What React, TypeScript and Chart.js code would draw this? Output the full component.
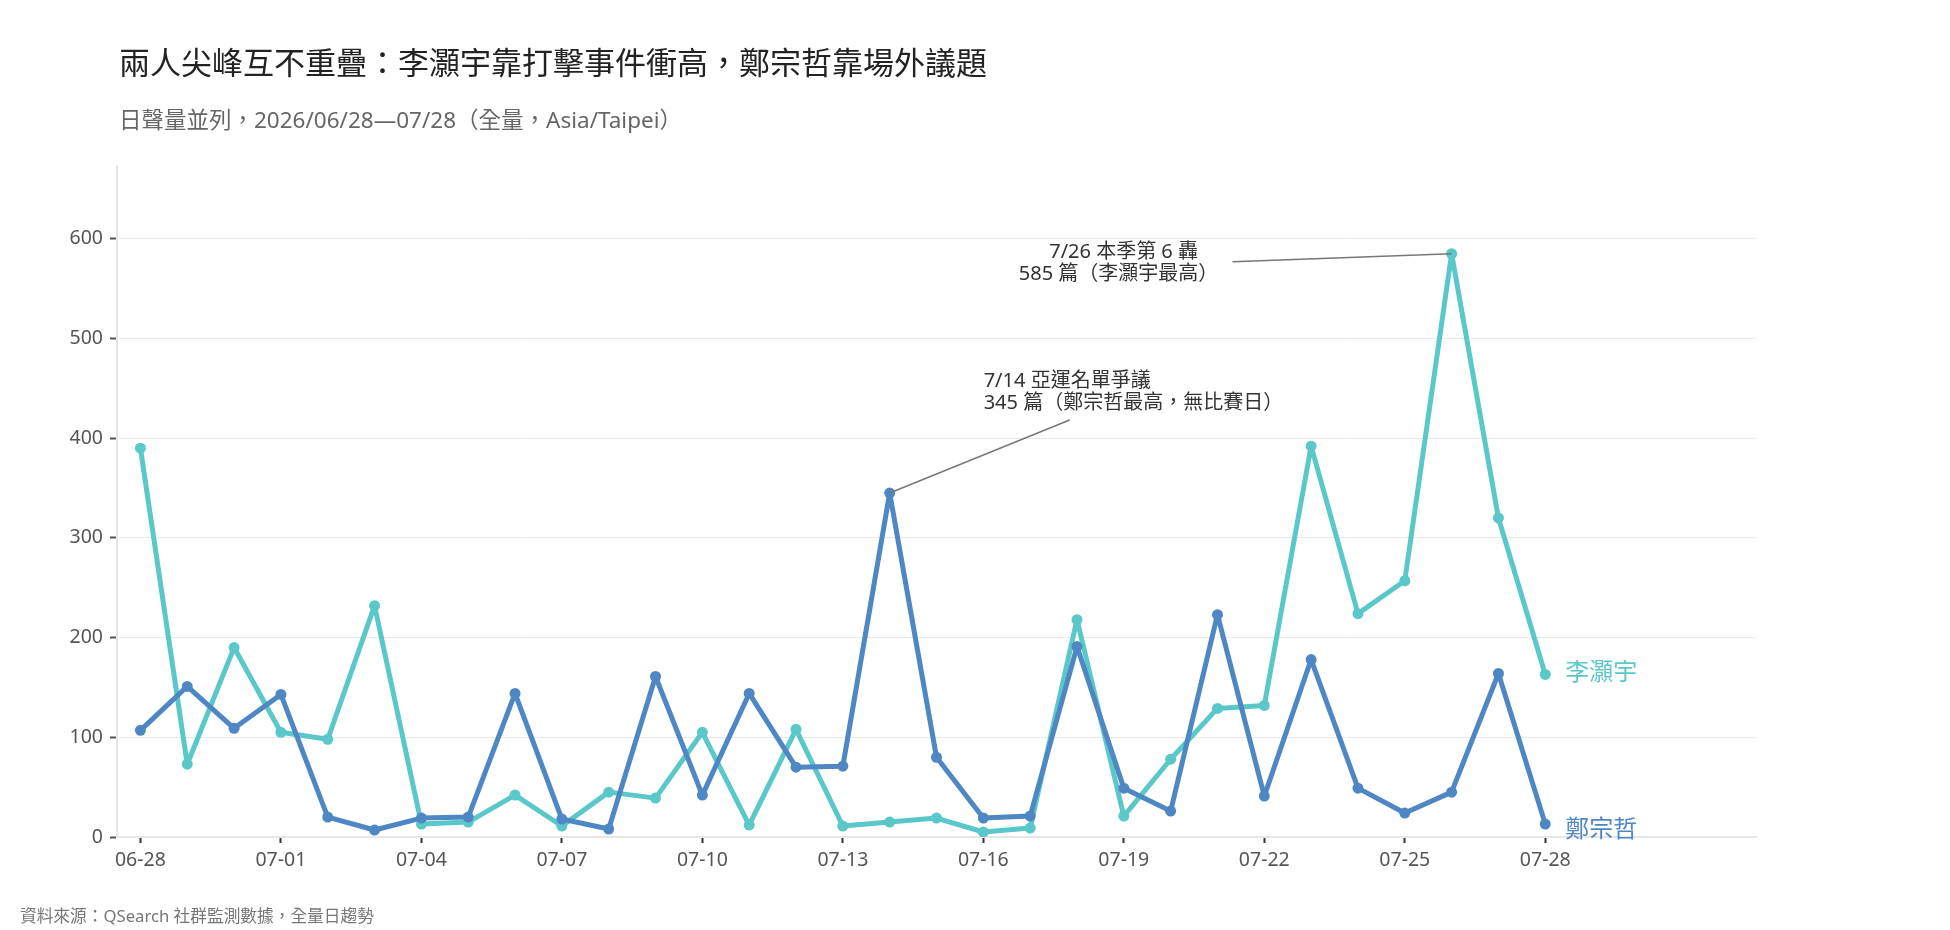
import React, { useEffect, useRef } from 'react';
import { Chart, registerables } from 'chart.js';

Chart.register(...registerables);

const dates: string[] = [
  '06-28', '06-29', '06-30', '07-01', '07-02', '07-03', '07-04', '07-05', '07-06', '07-07',
  '07-08', '07-09', '07-10', '07-11', '07-12', '07-13', '07-14', '07-15', '07-16', '07-17',
  '07-18', '07-19', '07-20', '07-21', '07-22', '07-23', '07-24', '07-25', '07-26', '07-27',
  '07-28',
];
const liValues: number[] = [
  390, 73, 190, 105, 98, 232, 13, 15, 42, 11,
  45, 39, 105, 12, 108, 11, 15, 19, 5, 9,
  218, 21, 78, 129, 132, 392, 224, 257, 585, 320,
  163,
];
const zhengValues: number[] = [
  107, 151, 109, 143, 20, 7, 19, 20, 144, 18,
  8, 161, 42, 144, 70, 71, 345, 80, 19, 21,
  191, 49, 26, 223, 41, 178, 49, 24, 45, 164,
  13,
];
const yTicks: number[] = [0, 100, 200, 300, 400, 500, 600];
const xTickIdx: number[] = [0, 3, 6, 9, 12, 15, 18, 21, 24, 27, 30];

const LI_NAME = '李灝宇';
const ZHENG_NAME = '鄭宗哲';
const LI_COLOR = '#5ac8c9';
const ZHENG_COLOR = '#4f87c5';
const FONT = '"Noto Sans", "Noto Sans CJK TC", sans-serif';

const title = '兩人尖峰互不重疊：李灝宇靠打擊事件衝高，鄭宗哲靠場外議題';
const subtitle = '日聲量並列，2026/06/28—07/28（全量，Asia/Taipei）';
const footer = '資料來源：QSearch 社群監測數據，全量日趨勢';

const liPeak = 28; // 07-26
const zhengPeak = 16; // 07-14

const textPlugin = {
  id: 'texts',
  afterDraw(chart: any) {
    const ctx = chart.ctx;
    const xs = chart.scales.x;
    const ys = chart.scales.y;
    ctx.save();

    // title, subtitle, footer
    ctx.textBaseline = 'middle';
    ctx.textAlign = 'left';
    ctx.fillStyle = '#222';
    ctx.font = `31px ${FONT}`;
    ctx.fillText(title, 119, 65);
    ctx.fillStyle = '#666';
    ctx.font = `22.5px ${FONT}`;
    ctx.fillText(subtitle, 119, 122);
    ctx.fillStyle = '#777';
    ctx.font = `16.7px ${FONT}`;
    ctx.fillText(footer, 20, 917);

    // annotation: Li peak
    const px = xs.getPixelForValue(liPeak);
    const py = ys.getPixelForValue(liValues[liPeak]);
    ctx.strokeStyle = '#777';
    ctx.lineWidth = 1.5;
    ctx.beginPath();
    ctx.moveTo(px - 219, py + 8);
    ctx.lineTo(px, py);
    ctx.stroke();
    ctx.fillStyle = '#333';
    ctx.font = `20px ${FONT}`;
    ctx.textAlign = 'center';
    ctx.fillText('7/26 本季第 6 轟', px - 328, py - 1);
    ctx.fillText(`${liValues[liPeak]} 篇（李灝宇最高）`, px - 333, py + 21);

    // annotation: Zheng peak
    const qx = xs.getPixelForValue(zhengPeak);
    const qy = ys.getPixelForValue(zhengValues[zhengPeak]);
    ctx.beginPath();
    ctx.moveTo(qx + 180, qy - 73);
    ctx.lineTo(qx, qy);
    ctx.stroke();
    ctx.textAlign = 'left';
    ctx.fillText('7/14 亞運名單爭議', qx + 94, qy - 112);
    ctx.fillText(`${zhengValues[zhengPeak]} 篇（鄭宗哲最高，無比賽日）`, qx + 94, qy - 90);

    // end labels
    const last = dates.length - 1;
    const lx = xs.getPixelForValue(last) + 20;
    ctx.font = `24px ${FONT}`;
    ctx.fillStyle = LI_COLOR;
    ctx.fillText(LI_NAME, lx, ys.getPixelForValue(liValues[last]) - 1);
    ctx.fillStyle = ZHENG_COLOR;
    ctx.fillText(ZHENG_NAME, lx, ys.getPixelForValue(zhengValues[last]) + 6);

    ctx.restore();
  },
};

const LineChart: React.FC = () => {
  const canvasRef = useRef<HTMLCanvasElement>(null);

  useEffect(() => {
    document.body.style.margin = '0';
    document.body.style.overflow = 'hidden';
    if (!canvasRef.current) return;
    const ctx = canvasRef.current.getContext('2d');
    if (!ctx) return;

    const lineStyle = {
      borderWidth: 5,
      pointRadius: 5.5,
      pointBorderWidth: 0,
      pointHoverRadius: 5.5,
      borderJoinStyle: 'round' as const,
      borderCapStyle: 'round' as const,
      tension: 0,
    };

    const chart = new Chart(ctx, {
      type: 'line',
      data: {
        datasets: [
          {
            label: ZHENG_NAME,
            data: zhengValues.map((v, i) => ({ x: i, y: v })),
            borderColor: ZHENG_COLOR,
            backgroundColor: ZHENG_COLOR,
            ...lineStyle,
          },
          {
            label: LI_NAME,
            data: liValues.map((v, i) => ({ x: i, y: v })),
            borderColor: LI_COLOR,
            backgroundColor: LI_COLOR,
            ...lineStyle,
          },
        ],
      },
      options: {
        animation: false,
        responsive: true,
        maintainAspectRatio: false,
        devicePixelRatio: 1,
        layout: { padding: { top: 166, right: 194, bottom: 0, left: 0 } },
        plugins: {
          legend: { display: false },
          tooltip: { enabled: false },
        },
        scales: {
          x: {
            type: 'linear',
            min: -0.5,
            max: 34.5,
            afterBuildTicks: (scale: any) => {
              scale.ticks = xTickIdx.map((v) => ({ value: v }));
            },
            afterFit: (scale: any) => {
              scale.height = 93;
            },
            ticks: {
              callback: (v: any) => dates[Number(v)] ?? '',
              color: '#555',
              font: { family: FONT, size: 19.5 },
              padding: 6,
              maxRotation: 0,
              autoSkip: false,
            },
            grid: {
              drawOnChartArea: false,
              drawTicks: true,
              tickLength: 6,
              tickColor: '#333',
              tickWidth: 2,
            },
            border: { display: true, color: '#e6e6e6', width: 2 },
          },
          y: {
            type: 'linear',
            min: 0,
            max: 673,
            afterBuildTicks: (scale: any) => {
              scale.ticks = yTicks.map((v) => ({ value: v }));
            },
            afterFit: (scale: any) => {
              scale.width = 117;
            },
            ticks: {
              color: '#555',
              font: { family: FONT, size: 19.5 },
              padding: 7,
            },
            grid: {
              color: '#e9e9e9',
              lineWidth: 1,
              tickLength: 7,
              tickColor: '#555',
              tickWidth: 2,
            },
            border: { display: true, color: '#e6e6e6', width: 2 },
          },
        },
      },
      plugins: [textPlugin],
    });

    return () => {
      chart.destroy();
    };
  }, []);

  return (
    <div style={{ position: 'relative', width: '1950px', height: '930px' }}>
      <canvas ref={canvasRef}></canvas>
    </div>
  );
};

export default function App() {
  return <LineChart />;
}
